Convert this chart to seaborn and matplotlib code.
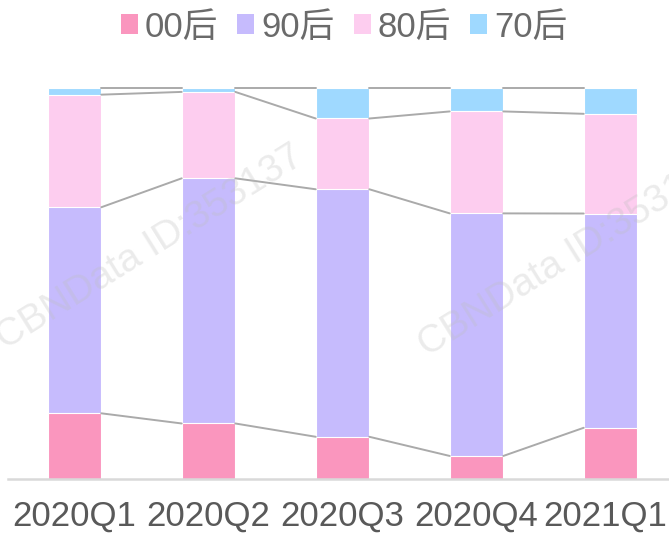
import numpy as np
import pandas as pd
import matplotlib
matplotlib.use('agg')
import matplotlib.pyplot as plt
import matplotlib.transforms as mtransforms
import seaborn as sns
from matplotlib.patches import Patch

# data (share of each age group, %)
quarters = ["2020Q1", "2020Q2", "2020Q3", "2020Q4", "2021Q1"]
groups = ["00后", "90后", "80后", "70后"]
share_00 = [16.8, 14.2, 10.8, 5.9, 13.1]
share_90 = [52.7, 62.7, 63.3, 62.1, 54.8]
share_80 = [28.8, 22.1, 18.1, 26.1, 25.5]
share_70 = [1.7, 1.0, 7.8, 6.0, 6.6]
colors = ["#FA96BE", "#C6BBFD", "#FDCDEF", "#9FD9FF"]

sns.set_style("white")
plt.rcParams['font.family'] = ['Liberation Sans', 'Noto Sans CJK SC', 'DejaVu Sans']

df = pd.DataFrame({"quarter": quarters, "00后": share_00, "90后": share_90,
                   "80后": share_80, "70后": share_70})
tot = df[groups].sum(axis=1)
for g in groups:
    df[g] = df[g] / tot
# cumulative levels, bottom up
df["c00"] = df["00后"]
df["c90"] = df["c00"] + df["90后"]
df["c80"] = df["c90"] + df["80后"]
df["c70"] = df["c80"] + df["70后"]

fig = plt.figure(figsize=(6.69, 5.37), dpi=100)
ax = fig.add_axes([7.5 / 669, 58 / 537, 670 / 669, 391 / 537])

# overlapping bars from the top level down
for col, c in zip(["c70", "c80", "c90", "c00"], colors[::-1]):
    sns.barplot(data=df, x="quarter", y=col, color=c, width=0.4, ax=ax,
                edgecolor="white", linewidth=0.8, saturation=1)

# connector lines between bar segment boundaries
bw = 0.4
for col in ["c00", "c90", "c80", "c70"]:
    vals = df[col].values
    for i in range(len(vals) - 1):
        ax.plot([i + bw / 2, i + 1 - bw / 2], [vals[i], vals[i + 1]],
                color="#aaaaaa", lw=1.4, zorder=1, clip_on=False)

ax.set_xlim(-0.5, 4.5)
ax.set_ylim(0, 1)
ax.set_xlabel("")
ax.set_ylabel("")
ax.set_yticks([])
sns.despine(ax=ax, left=True, top=True, right=True)
ax.spines["bottom"].set_color("#d9d9d9")
ax.spines["bottom"].set_linewidth(1.8)
ax.tick_params(axis="x", length=0, pad=15, labelsize=25, labelcolor="#595959")
# last label nudged left so it stays inside the figure
last = ax.get_xticklabels()[-1]
last.set_transform(last.get_transform() +
                   mtransforms.ScaledTranslation(-5 / 100, 0, fig.dpi_scale_trans))

handles = [Patch(facecolor=c, edgecolor="none") for c in colors]
fig.legend(handles, groups, loc="center", bbox_to_anchor=(344 / 669, 1 - 27 / 537),
           ncol=4, frameon=False, labelcolor="#6a6a6a", fontsize=25,
           handlelength=0.49, handleheight=0.49, handletextpad=0.2, columnspacing=0.55)

# watermark
for (x, y) in [(150, 248), (572, 255)]:
    fig.text(x / 669, 1 - y / 537, "CBNData ID:353137", fontsize=28, color="#bfbfbf",
             alpha=0.3, rotation=32, ha="center", va="center", rotation_mode="anchor")

fig.savefig("out.png", dpi=100, facecolor="white")
